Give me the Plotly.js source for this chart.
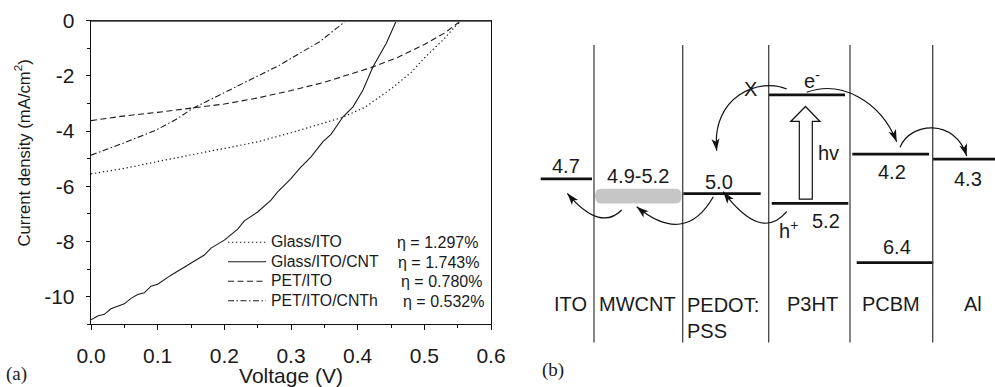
<!DOCTYPE html>
<html><head><meta charset="utf-8">
<script src="https://cdn.plot.ly/plotly-3.0.1.min.js"></script>
<style>html,body{margin:0;padding:0;background:#fff}#chart{width:995px;height:387px}</style>
</head><body><div id="chart"></div>
<script>
// ---------- Panel (a): J-V data ----------
const seriesNames = ['Glass/ITO', 'Glass/ITO/CNT', 'PET/ITO', 'PET/ITO/CNTh'];
const etaLabels = ['η = 1.297%', 'η = 1.743%', 'η = 0.780%', 'η = 0.532%'];

const V_glassITO = [0, 0.05, 0.10, 0.15, 0.20, 0.25, 0.30, 0.35, 0.375, 0.41, 0.45, 0.48, 0.50, 0.53, 0.548, 0.556];
const J_glassITO = [-5.55, -5.35, -5.10, -4.87, -4.62, -4.39, -4.06, -3.70, -3.52, -3.15, -2.47, -1.88, -1.35, -0.65, -0.16, 0];

const V_glassCNT = [0, 0.01, 0.02, 0.03, 0.05, 0.06, 0.07, 0.08, 0.09, 0.10, 0.12, 0.15, 0.17, 0.18, 0.20, 0.22, 0.23, 0.25, 0.27, 0.28, 0.30, 0.313, 0.33, 0.348, 0.36, 0.378, 0.393, 0.408, 0.423, 0.443, 0.458];
const J_glassCNT = [-10.84, -10.70, -10.64, -10.44, -10.26, -10.06, -9.92, -9.86, -9.62, -9.55, -9.22, -8.78, -8.49, -8.24, -7.95, -7.55, -7.25, -6.93, -6.50, -6.20, -5.72, -5.35, -4.93, -4.38, -4.12, -3.48, -3.12, -2.51, -1.67, -0.82, 0];

const V_petITO = [0, 0.05, 0.10, 0.15, 0.20, 0.25, 0.30, 0.35, 0.40, 0.42, 0.46, 0.50, 0.53, 0.555];
const J_petITO = [-3.62, -3.45, -3.32, -3.18, -3.02, -2.80, -2.53, -2.23, -1.87, -1.70, -1.33, -0.86, -0.45, 0];

const V_petCNTh = [0, 0.048, 0.098, 0.128, 0.153, 0.198, 0.223, 0.243, 0.283, 0.313, 0.343, 0.368, 0.383];
const J_petCNTh = [-4.87, -4.44, -3.96, -3.57, -3.17, -2.63, -2.33, -2.10, -1.61, -1.18, -0.76, -0.28, 0];

const xTickVals = [0, 0.1, 0.2, 0.3, 0.4, 0.5, 0.6];
const xTickText = ['0.0', '0.1', '0.2', '0.3', '0.4', '0.5', '0.6'];
const yTickVals = [-10, -8, -6, -4, -2, 0];
const yTickText = ['-10', '-8', '-6', '-4', '-2', '0'];

// ---------- Panel (b): energy levels (eV) ----------
const layerNames = ['ITO', 'MWCNT', 'PEDOT:<br>PSS', 'P3HT', 'PCBM', 'Al'];
const levelLayer = ['ITO', 'PEDOT:PSS', 'P3HT LUMO', 'P3HT HOMO', 'PCBM LUMO', 'PCBM HOMO', 'Al'];
const levelEnergy = [4.7, 5.0, 3.0, 5.2, 4.2, 6.4, 4.3];
const levelLabel = ['4.7', '5.0', '', '5.2', '4.2', '6.4', '4.3'];
const mwcntRange = [4.9, 5.2];

// ---------- layout helpers (pixel geometry) ----------
const W = 995, H = 387;
const fx = p => p / W, fy = p => 1 - p / H;
// energy axis of panel (b): pixel y = 191.97 + 49.37*(E-4.967)
const E0 = 4.967, PY0 = 191.97, K = 49.37;
const Ypx = E => PY0 + K * (E - E0);
const eTop = E0 - PY0 / K, eBot = E0 + (H - PY0) / K;

const ink = '#1a1a1a';
const FONT = '"Liberation Sans", Arial, Helvetica, sans-serif';
const SERIF = '"Liberation Serif", "Times New Roman", serif';

const styles = [
  {dash: '1.3px,2.7px', width: 1.2},
  {dash: 'solid', width: 1.1},
  {dash: '6px,3.5px', width: 1.1},
  {dash: '6px,2.5px,1.5px,2.5px', width: 1.1}
];
const Vs = [V_glassITO, V_glassCNT, V_petITO, V_petCNTh];
const Js = [J_glassITO, J_glassCNT, J_petITO, J_petCNTh];

const traces = seriesNames.map((n, i) => ({
  type: 'scatter', mode: 'lines', name: '<span style="font-size:15.8px">' + n + '</span>', x: Vs[i], y: Js[i],
  xaxis: 'x', yaxis: 'y',
  line: {color: ink, width: styles[i].width, dash: styles[i].dash}
}));

// level spans (layout positions, pixel x on x2 axis)
const levelSpan = [[540.7, 592], [683.3, 760.7], [768.7, 845], [771.7, 848.3], [852.3, 929], [856.7, 933.3], [932.7, 995]];
const labelPos = [[566, 13.2], [719, 12], null, [826, -17.3], [892.3, -17.7], [896.7, 15.7], [968, -19.8]];

levelEnergy.forEach((E, i) => {
  traces.push({
    type: 'scatter', mode: 'lines', name: levelLayer[i], showlegend: false, hoverinfo: 'skip',
    x: levelSpan[i], y: [E, E], xaxis: 'x2', yaxis: 'y2',
    line: {color: '#111', width: 2.7}
  });
});

const annotations = [];
// y axis title (placed as in the reference, above the axis centre)
annotations.push({text: 'Current density (mA/cm<sup>2</sup>)', xref: 'paper', yref: 'paper', x: fx(22), y: fy(153.5),
  xanchor: 'center', yanchor: 'middle', textangle: -90, showarrow: false, font: {family: FONT, size: 16.7, color: ink}});
// eta annotations
const etaX = [395.2, 396.2, 398.5, 401.2];
const rowY = [242.5, 262, 281.5, 301];
etaLabels.forEach((t, i) => annotations.push({
  text: t, xref: 'paper', yref: 'paper', x: fx(etaX[i]), y: fy(rowY[i]),
  xanchor: 'left', yanchor: 'middle', showarrow: false,
  font: {family: FONT, size: 16, color: ink}
}));
// panel letters
annotations.push({text: '(a)', xref: 'paper', yref: 'paper', x: fx(16), y: 0, xanchor: 'center', yanchor: 'bottom', showarrow: false, font: {family: SERIF, size: 19, color: ink}});
annotations.push({text: '(b)', xref: 'paper', yref: 'paper', x: fx(553), y: fy(370), xanchor: 'center', yanchor: 'middle', showarrow: false, font: {family: SERIF, size: 19, color: ink}});

// level labels
levelLabel.forEach((t, i) => {
  if (!t) return;
  annotations.push({text: t, xref: 'x2', yref: 'y2', x: labelPos[i][0], y: levelEnergy[i], yshift: labelPos[i][1],
    xanchor: 'center', yanchor: 'middle', showarrow: false, font: {family: FONT, size: 20, color: ink}});
});
annotations.push({text: mwcntRange[0] + '-' + mwcntRange[1], xref: 'x2', yref: 'y2', x: 637.5, y: mwcntRange[0], yshift: 12.5,
  xanchor: 'center', yanchor: 'middle', showarrow: false, font: {family: FONT, size: 20, color: ink}});

// layer names at the bottom
const layerX = [570.3, 637.7, 685, 812.5, 890.7, 972.8];
layerNames.forEach((t, i) => {
  const isTwo = t.indexOf('<br>') >= 0;
  annotations.push({text: t, xref: 'paper', yref: 'paper', x: fx(layerX[i]), y: fy(isTwo ? 292 : 304.2),
    xanchor: isTwo ? 'left' : 'center', yanchor: isTwo ? 'top' : 'middle', align: 'left', showarrow: false,
    font: {family: FONT, size: 20, color: ink}});
});
// other diagram texts
const misc = [['hv', 828, 152.5], ['e<sup>-</sup>', 812, 80], ['h<sup>+</sup>', 788, 229], ['X', 750, 89]];
misc.forEach(m => annotations.push({text: m[0], xref: 'paper', yref: 'paper', x: fx(m[1]), y: fy(m[2]),
  xanchor: 'center', yanchor: 'middle', showarrow: false, font: {family: FONT, size: 20, color: ink}}));

// ---------- shapes ----------
const shapes = [];
// heavy gray top frame line of panel (a)
shapes.push({type: 'line', xref: 'paper', yref: 'y', x0: fx(91), x1: fx(491), y0: 0, y1: 0, line: {color: '#6e6e6e', width: 2.5}});
// column dividers of panel (b)
[594, 682.7, 768.7, 850, 932.7].forEach(x => shapes.push({type: 'line', xref: 'x2', yref: 'paper', x0: x, x1: x, y0: fy(45), y1: fy(342.5), line: {color: '#444', width: 1.3}}));
// MWCNT band (rounded)
(function () {
  const a = 595, b = 681.7, r = 6, lo = mwcntRange[0], hi = mwcntRange[1], mid = (lo + hi) / 2;
  shapes.push({type: 'path', xref: 'x2', yref: 'y2', layer: 'below', fillcolor: '#c6c6c6', line: {width: 0},
    path: `M${a + r},${lo} L${b - r},${lo} Q${b},${lo} ${b},${mid} Q${b},${hi} ${b - r},${hi} L${a + r},${hi} Q${a},${hi} ${a},${mid} Q${a},${lo} ${a + r},${lo} Z`});
})();
// curved arrows (pixel geometry -> paper)
const P = (x, y) => `${fx(x)},${fy(y)}`;
function head(tip, from) {
  const dx = tip[0] - from[0], dy = tip[1] - from[1], l = Math.hypot(dx, dy);
  const ux = dx / l, uy = dy / l, L = 12, w = 4;
  const bx = tip[0] - ux * L, by = tip[1] - uy * L;
  shapes.push({type: 'path', xref: 'paper', yref: 'paper', fillcolor: '#111', line: {width: 0},
    path: `M${P(tip[0], tip[1])} L${P(bx - uy * w, by + ux * w)} L${P(tip[0] - ux * L * 0.75, tip[1] - uy * L * 0.75)} L${P(bx + uy * w, by - ux * w)} Z`});
}
function qArrow(p0, c, p2) {
  shapes.push({type: 'path', xref: 'paper', yref: 'paper', line: {color: '#111', width: 1.2},
    path: `M${P(...p0)} Q${P(...c)} ${P(...p2)}`});
  head(p2, c);
}
function cArrow(p0, c1, c2, p3) {
  shapes.push({type: 'path', xref: 'paper', yref: 'paper', line: {color: '#111', width: 1.2},
    path: `M${P(...p0)} C${P(...c1)} ${P(...c2)} ${P(...p3)}`});
  head(p3, c2);
}
qArrow([621.7, 210], [600, 232], [567.3, 193.3]);
qArrow([713.3, 196.7], [685, 246.3], [636.7, 206.7]);
qArrow([786.7, 211.7], [761, 242.3], [723.3, 191.7]);
cArrow([786.7, 89], [760, 77], [711, 96], [716.7, 150.7]);
cArrow([806.7, 92.3], [840, 80], [880, 100], [896.7, 141.7]);
cArrow([900, 147.3], [910, 122], [955, 118], [966.7, 156]);
// hv block arrow
(function () {
  const yb = Ypx(levelEnergy[3]) - 4.4, yt = Ypx(levelEnergy[2]) + 11.6, yh = yt + 15;
  shapes.push({type: 'path', xref: 'paper', yref: 'paper', fillcolor: '#fff', line: {color: '#111', width: 1.2},
    path: `M${P(799.3, yb)} L${P(799.3, yh)} L${P(790.7, yh)} L${P(805.5, yt)} L${P(820, yh)} L${P(812.3, yh)} L${P(812.3, yb)} Z`});
})();

const axFont = {family: FONT, size: 21, color: ink};
const layout = {
  width: W, height: H, margin: {l: 0, r: 0, t: 0, b: 0},
  paper_bgcolor: '#fff', plot_bgcolor: '#fff', showlegend: true,
  font: {family: FONT, color: ink},
  xaxis: {
    domain: [fx(91), fx(491)], range: [0, 0.6], anchor: 'y',
    tickmode: 'array', tickvals: xTickVals, ticktext: xTickText,
    ticks: 'outside', ticklen: 5, tickwidth: 1, tickcolor: '#111', ticklabelstandoff: 7,
    minor: {tickmode: 'linear', tick0: 0, dtick: 0.05, ticks: 'outside', ticklen: 3, tickcolor: '#111', showgrid: false},
    showline: true, linecolor: '#111', linewidth: 1.1, mirror: true,
    showgrid: false, zeroline: false, tickfont: axFont,
    title: {text: 'Voltage (V)', font: axFont, standoff: 12}
  },
  yaxis: {
    domain: [fy(324.3), fy(20.7)], range: [-11, 0], anchor: 'x',
    tickmode: 'array', tickvals: yTickVals, ticktext: yTickText,
    ticks: 'outside', ticklen: 4, tickwidth: 1, tickcolor: '#111', ticklabelstandoff: 7,
    minor: {tickmode: 'linear', tick0: 0, dtick: 1, ticks: 'outside', ticklen: 2.5, tickcolor: '#111', showgrid: false},
    showline: true, linecolor: '#111', linewidth: 1.3, mirror: true,
    showgrid: false, zeroline: false, tickfont: axFont
  },
  xaxis2: {domain: [fx(500), 1], range: [500, 995], anchor: 'y2', visible: false},
  yaxis2: {domain: [0, 1], range: [eBot, eTop], anchor: 'x2', visible: false},
  legend: {x: fx(223), y: fy(227.5), xanchor: 'left', yanchor: 'top', bgcolor: 'rgba(0,0,0,0)',
    font: {family: FONT, size: 12.7, color: ink}, itemwidth: 38, tracegroupgap: 0},
  annotations: annotations,
  shapes: shapes
};

Plotly.newPlot('chart', traces, layout, {displayModeBar: false, staticPlot: true});
</script>
</body></html>
